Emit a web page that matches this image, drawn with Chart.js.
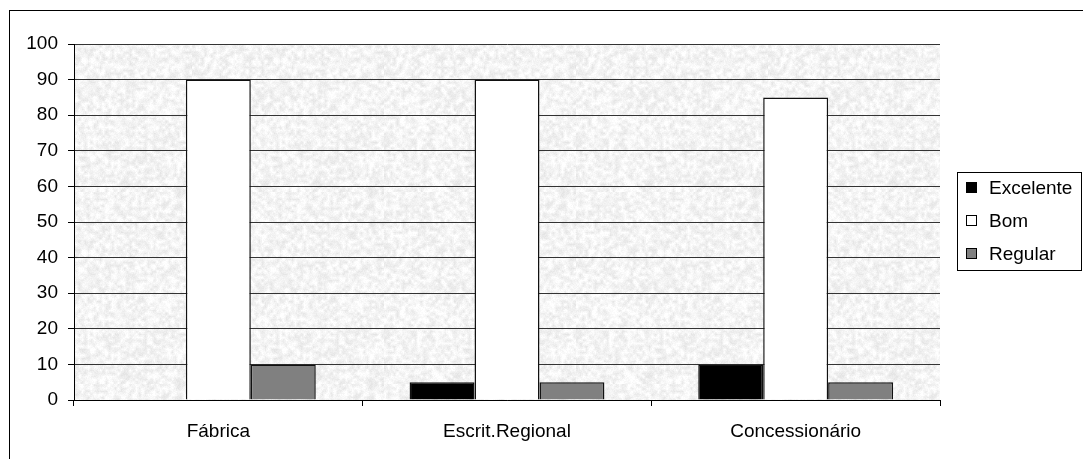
<!DOCTYPE html>
<html>
<head>
<meta charset="utf-8">
<style>
  html, body { margin: 0; padding: 0; background: #fff; }
  #wrap { width: 1083px; height: 459px; position: relative; }
</style>
<script src="https://cdn.jsdelivr.net/npm/chart.js@4/dist/chart.umd.min.js"></script>
</head>
<body>
<div id="wrap"><canvas id="chart" width="1083" height="459"></canvas></div>
<script>
// Categories and series values
const categories = ['Fábrica', 'Escrit.Regional', 'Concessionário'];
const seriesNames = ['Excelente', 'Bom', 'Regular'];
const excelente = [0, 5, 10];
const bom = [90, 90, 85];
const regular = [10, 5, 5];
const yTicks = [0, 10, 20, 30, 40, 50, 60, 70, 80, 90, 100];

const FONT = '"Liberation Sans", Arial, sans-serif';
const FONT_SIZE = 19;
const fills = ['#000000', '#ffffff', '#808080'];

// Granite-like fill for the plotting area, built from a seeded generator
function makeGranite() {
  let s = 12345;
  const rnd = () => { s = (s * 1103515245 + 12345) & 0x7fffffff; return s / 0x7fffffff; };
  const small = document.createElement('canvas');
  small.width = 64; small.height = 64;
  const sc = small.getContext('2d');
  const img = sc.createImageData(64, 64);
  for (let i = 0; i < 64 * 64; i++) {
    const v = 228 + Math.floor(rnd() * 27);
    img.data[i * 4] = v; img.data[i * 4 + 1] = v; img.data[i * 4 + 2] = v; img.data[i * 4 + 3] = 255;
  }
  sc.putImageData(img, 0, 0);
  const big = document.createElement('canvas');
  big.width = 192; big.height = 192;
  const bc = big.getContext('2d');
  bc.imageSmoothingEnabled = true;
  bc.drawImage(small, 0, 0, 192, 192);
  const fine = bc.getImageData(0, 0, 192, 192);
  for (let i = 0; i < 192 * 192; i++) {
    const d = Math.floor((rnd() - 0.5) * 10);
    for (let c = 0; c < 3; c++) {
      fine.data[i * 4 + c] = Math.max(0, Math.min(255, fine.data[i * 4 + c] + d + 4));
    }
  }
  bc.putImageData(fine, 0, 0);
  return big;
}
const granite = makeGranite();

const framePlugin = {
  id: 'frame',
  beforeDraw(chart) {
    const { ctx, chartArea: a } = chart;
    ctx.save();
    ctx.fillStyle = '#fff';
    ctx.fillRect(0, 0, chart.width, chart.height);
    ctx.fillStyle = ctx.createPattern(granite, 'repeat');
    ctx.fillRect(a.left, a.top, a.right - a.left, a.bottom - a.top);
    ctx.restore();
  },
  afterDraw(chart) {
    const ctx = chart.ctx;
    ctx.save();
    // outer chart border
    ctx.strokeStyle = '#000';
    ctx.lineWidth = 1;
    ctx.strokeRect(9.5, 10.5, 1200, 600);
    // legend
    ctx.fillStyle = '#fff';
    ctx.fillRect(957.5, 172.5, 124, 98);
    ctx.strokeRect(957.5, 172.5, 124, 98);
    ctx.font = FONT_SIZE + 'px ' + FONT;
    ctx.textBaseline = 'middle';
    const rows = [188, 221, 254];
    chart.data.datasets.forEach((ds, i) => {
      const y = rows[i];
      ctx.fillStyle = ds.backgroundColor;
      ctx.fillRect(966.5, y - 5.5, 10, 10);
      ctx.strokeStyle = '#000';
      ctx.strokeRect(966.5, y - 5.5, 10, 10);
      ctx.fillStyle = '#000';
      ctx.fillText(ds.label, 989, y + 1);
    });
    ctx.restore();
  }
};

const values = [excelente, bom, regular];
new Chart(document.getElementById('chart'), {
  type: 'bar',
  data: {
    labels: categories,
    datasets: seriesNames.map((name, i) => ({
      label: name,
      data: values[i],
      backgroundColor: fills[i],
      borderColor: '#111',
      borderWidth: 1.5,
      barPercentage: 1,
      categoryPercentage: 0.675
    }))
  },
  options: {
    responsive: false,
    animation: false,
    devicePixelRatio: 1,
    layout: { padding: { top: 44, right: 143, bottom: 0, left: 0 } },
    plugins: { legend: { display: false }, tooltip: { enabled: false } },
    scales: {
      x: {
        afterFit(scale) { scale.height = 59; },
        grid: { offset: true, drawOnChartArea: false, drawTicks: true, tickLength: 6, color: '#000' },
        border: { color: '#000', width: 1 },
        ticks: { color: '#000', font: { family: FONT, size: FONT_SIZE }, padding: 14 }
      },
      y: {
        min: 0, max: 100,
        afterFit(scale) { scale.width = 74; },
        afterBuildTicks(scale) { scale.ticks = yTicks.map(v => ({ value: v })); },
        grid: { color: '#333333', lineWidth: 1, drawTicks: true, tickLength: 6, tickColor: '#000' },
        border: { color: '#000', width: 1 },
        ticks: { color: '#000', font: { family: FONT, size: FONT_SIZE }, padding: 10 }
      }
    }
  },
  plugins: [framePlugin]
});
</script>
</body>
</html>
